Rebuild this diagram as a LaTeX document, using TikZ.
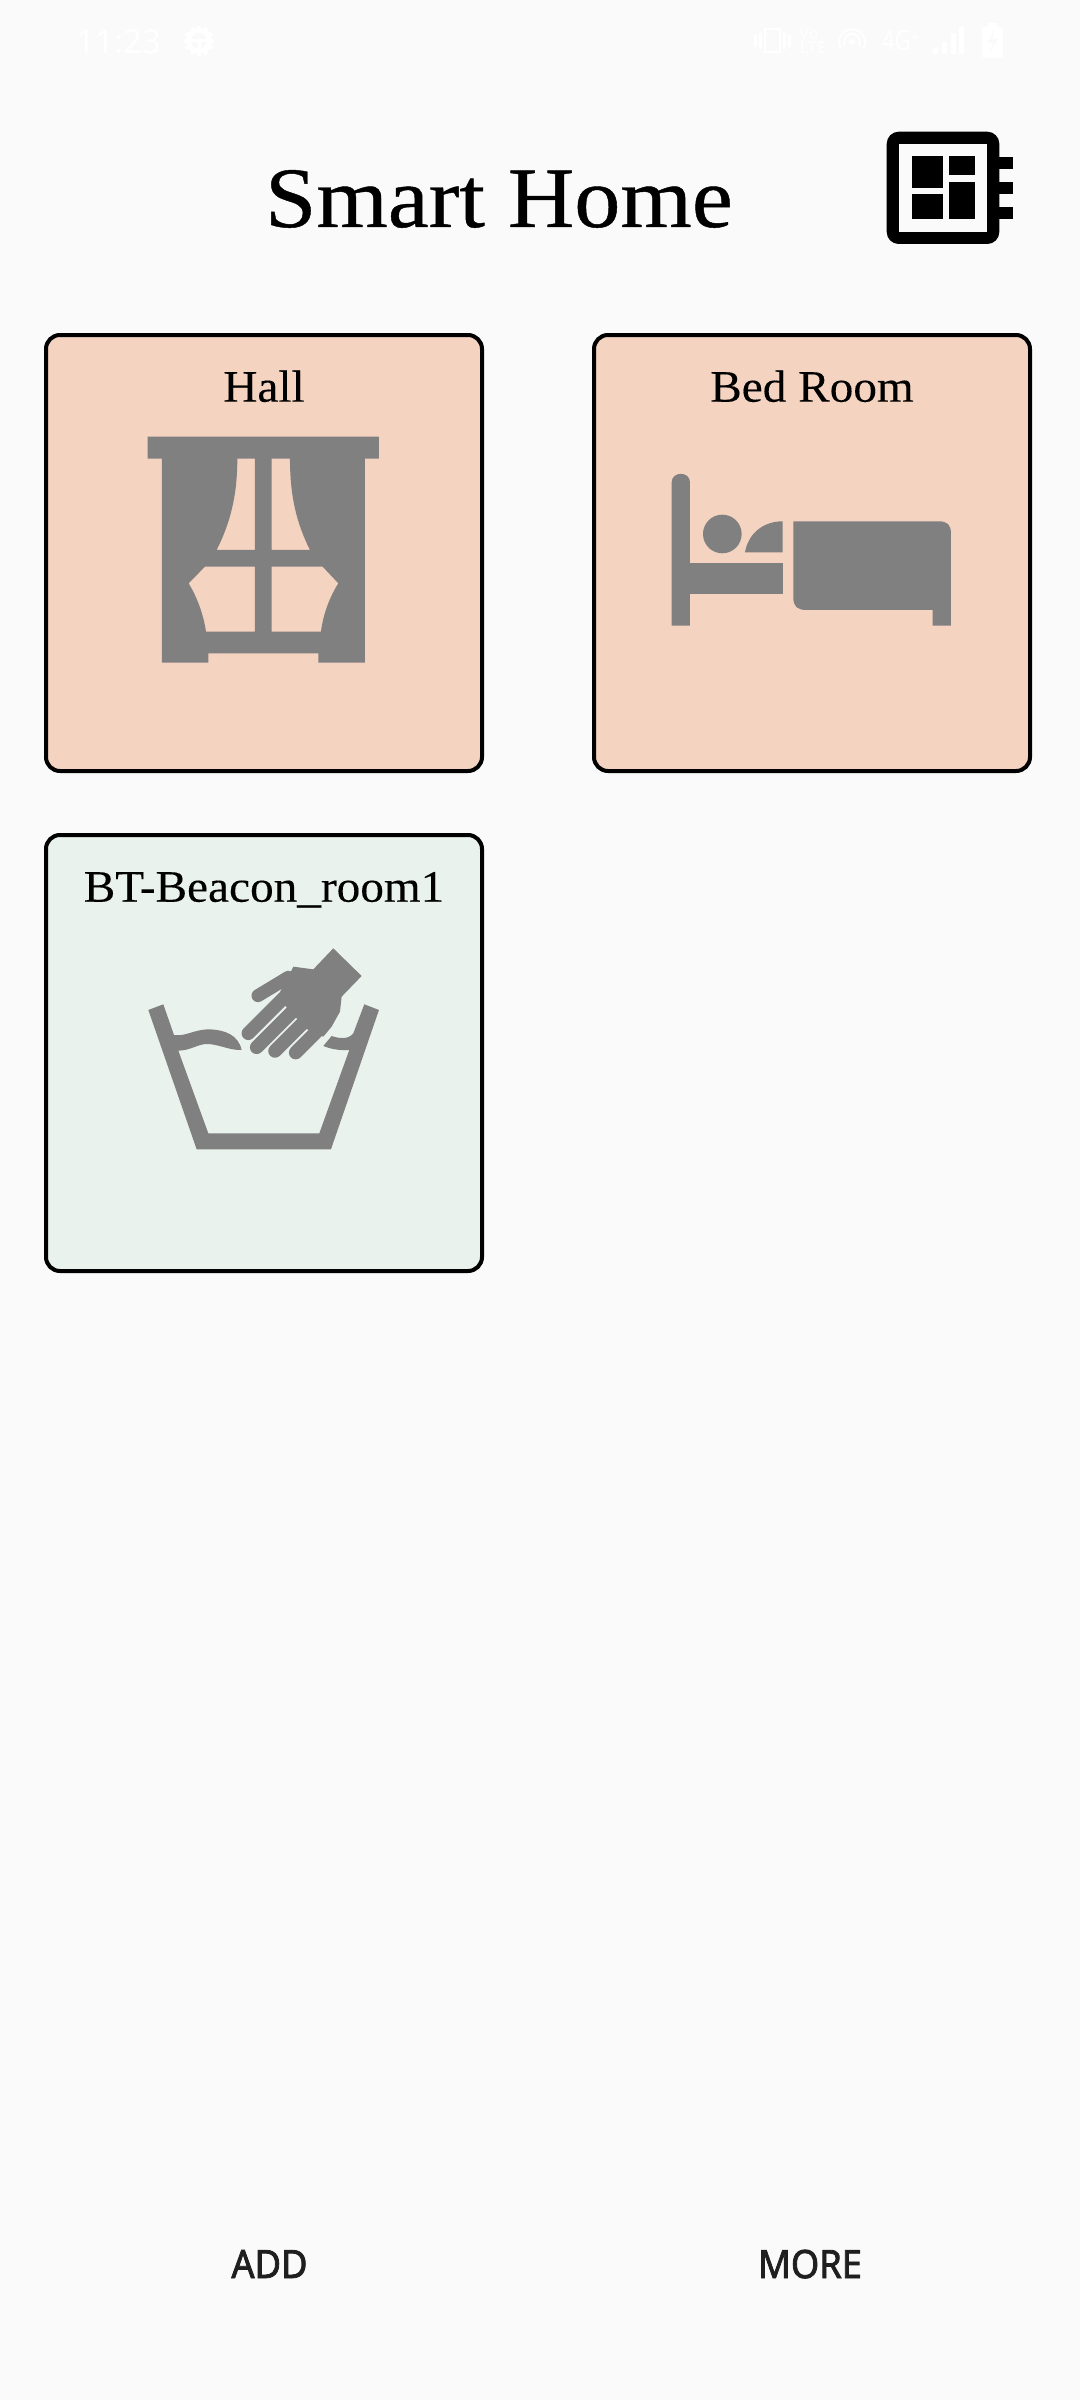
\documentclass[tikz,border=0pt]{standalone}
\usepackage{fontspec}
\usepackage{xcolor}
\newfontfamily\titlefont[FakeStretch=1.07,FakeBold=0.5]{Liberation Serif}
\newfontfamily\cardfont[FakeStretch=1.05,FakeBold=0.2]{Liberation Serif}
\newfontfamily\buttonfont[FakeStretch=0.93,FakeBold=2.0]{Noto Sans}
\newfontfamily\barfont{Noto Sans}
\definecolor{screen}{HTML}{FAFAFA}
\definecolor{peach}{HTML}{F5D3C1}
\definecolor{mint}{HTML}{EAF2ED}
\definecolor{icongray}{HTML}{808080}
\definecolor{buttoninK}{HTML}{1F1F1F}
\tikzset{
	card/.style={draw=black,line width=4pt,rounded corners=14pt,inner sep=0pt,minimum width=436pt,minimum height=436pt},
	cardlabel/.style={anchor=base,inner sep=0pt,font=\cardfont\fontsize{45}{45}\selectfont},
	button/.style={anchor=base,inner sep=0pt,text=buttoninK,font=\buttonfont\fontsize{39}{39}\selectfont},
	barlabel/.style={anchor=base,inner sep=0pt,text=white,font=\barfont\bfseries\fontsize{#1}{#1}\selectfont},
	icon/.style={fill=icongray}
}
\tikzset{
	pics/roomcard/.style args={#1/#2/#3/#4/#5}{
	code = {
		\node[card,fill=#3] (#4) at (#1,#2) {};
		\node[cardlabel] (#4_label) at (#1,\fpeval{#2-151.3}) {#5};
	}}
}
\tikzset{
	pics/curtain/.style args={#1/#2}{
	code = {
		\begin{scope}[shift={(#1,#2)},scale=0.3333]
		\fill[icon,even odd rule] (353,350) -- (1047,350) -- (1047,416) -- (1005,416) -- (1005,1028) -- (865,1028) -- (865,1000) -- (535,1000) -- (535,1028) -- (396,1028) -- (396,416) -- (353,416) -- cycle
			(622,416) -- (675,416) -- (675,690) -- (560,690) .. controls (600,610) and (622,530) .. (622,416) -- cycle
			(780,416) -- (725,416) -- (725,690) -- (840,690) .. controls (800,610) and (780,530) .. (780,416) -- cycle
			(525,740) -- (675,740) -- (675,935) -- (528,935) .. controls (520,880) and (500,830) .. (476,790) -- cycle
			(878,740) -- (725,740) -- (725,935) -- (873,935) .. controls (880,880) and (900,830) .. (925,790) -- cycle;
		\end{scope}
	}}
}
\tikzset{
	pics/bed/.style args={#1/#2}{
	code = {
		\begin{scope}[shift={(#1,#2)},scale=0.3333]
		\fill[icon] (275,917) -- (275,487) .. controls (275,453) and (330,453) .. (330,487) -- (330,917) -- cycle;
		\fill[icon] (330,728) rectangle (608,822);
		\fill[icon] (427,642) circle (58);
		\fill[icon] (495,697) .. controls (505,640) and (550,604) .. (608,604) -- (608,697) -- cycle;
		\fill[icon] (640,604) -- (1075,604) .. controls (1103,604) and (1113,614) .. (1113,642) -- (1113,917) -- (1058,917) -- (1058,870) -- (680,870) .. controls (652,870) and (640,860) .. (640,832) -- cycle;
		\end{scope}
	}}
}
\tikzset{
	pics/washbowl/.style args={#1/#2}{
	code = {
		\begin{scope}[shift={(#1,#2)},scale=0.3333]
		% bowl
		\fill[icon] (355,570) -- (400,553) -- (432,645) .. controls (470,650) and (490,628) .. (540,628) .. controls (585,630) and (625,645) .. (635,690) .. controls (600,692) and (565,672) .. (530,672) .. controls (505,672) and (480,692) .. (445,692) -- (535,940) -- (868,940) -- (958,690) .. controls (930,692) and (905,688) .. (880,678) -- (905,648) .. controls (925,655) and (955,660) .. (970,640) -- (1003,553) -- (1047,570) -- (903,988) -- (500,988) -- cycle;
		% hand
		\fill[icon] (910,385) -- (995,468) -- (935,530) -- (930,575) -- (905,620) -- (880,650) -- (832,628) -- (800,595) -- (768,560) -- (745,525) -- (770,480) -- (790,440) -- (850,448) -- cycle;
		\draw[icongray,line width=13pt,line cap=round] (684,527) -- (775,472);
		\draw[icongray,line width=13.5pt,line cap=round] (655,640) -- (760,535);
		\draw[icongray,line width=13.5pt,line cap=round] (680,682) -- (785,577);
		\draw[icongray,line width=13.5pt,line cap=round] (735,693) -- (820,608);
		\draw[icongray,line width=13.5pt,line cap=round] (797,698) -- (860,635);
		\end{scope}
	}}
}
\begin{document}
\begin{tikzpicture}[x=1pt,y=-1pt]
		\fill[screen] (0,0) rectangle (1080,2400);

		%status bar
		\node[barlabel=33] (clock) at (119,54) {\mdseries 11:23};
		\fill[white,even odd rule] (199,41) circle (13) (199,41) circle (8);
		\foreach \a in {0,30,...,330} {
			\fill[white,rotate around={\a:(199,41)}] (197,26) rectangle (201,30);
		}
		\fill[white] (191,39) rectangle (207,42);
		\fill[white] (197.5,39) rectangle (200.5,49);
		\draw[white,line width=2pt] (765,29) rectangle (780,52);
		\fill[white] (754,35) rectangle (757,47);
		\fill[white] (759,33) rectangle (762,49);
		\fill[white] (783,33) rectangle (786,49);
		\fill[white] (788,35) rectangle (791,47);
		\node[barlabel=16] (volte_top) at (809,40) {Vo};
		\node[barlabel=16] (volte_bottom) at (813,54) {LTE};
		\draw[white,line width=2pt] (852,42) ++(150:13) arc (150:390:13);
		\draw[white,line width=2pt] (852,42) ++(150:8) arc (150:390:8);
		\fill[white] (852,42) circle (3);
		\node[barlabel=28,xscale=0.8] (network) at (901,51) {4G\raisebox{6pt}{\fontsize{20}{20}\selectfont +}};
		\fill[white] (933,48) rectangle (938,54);
		\fill[white] (942,42) rectangle (947,54);
		\fill[white] (951,33) rectangle (956,54);
		\fill[white] (959,27) rectangle (964,54);
		\fill[white] (988,23) rectangle (997,28);
		\fill[white,rounded corners=2pt] (982,27) rectangle (1003,58);
		\fill[screen] (994,30) -- (988,43) -- (993,43) -- (990,52) -- (998,39) -- (993,39) -- cycle;

		%title bar
		\node[anchor=base,inner sep=0pt,font=\titlefont\fontsize{86}{86}\selectfont] (title) at (499,227) {Smart Home};
		\fill[black,rounded corners=12pt] (886.7,131.7) rectangle (999.3,244);
		\fill[screen] (899.3,144) rectangle (987.3,231.7);
		\fill[black] (911.7,156) rectangle (943.3,187.7);
		\fill[black] (949.3,156) rectangle (974.7,175.3);
		\fill[black] (911.7,194) rectangle (943.3,219.3);
		\fill[black] (949.3,181.7) rectangle (974.7,219.3);
		\fill[black] (998,156.7) rectangle (1012.7,169);
		\fill[black] (998,181.7) rectangle (1012.7,194);
		\fill[black] (998,206.7) rectangle (1012.7,219);

		%rooms
		\pic{roomcard=264/553/peach/hall/Hall};
		\pic{curtain=30/320};
		\pic{roomcard=812/553/peach/bedroom/Bed Room};
		\pic{bed=580/320};
		\pic{roomcard=264/1053/mint/beacon/BT-Beacon\_room1};
		\pic{washbowl=30/820};

		%buttons
		\node[button] (add) at (269.5,2278) {ADD};
		\node[button] (more) at (810,2278) {MORE};
	\end{tikzpicture}
\end{document}
